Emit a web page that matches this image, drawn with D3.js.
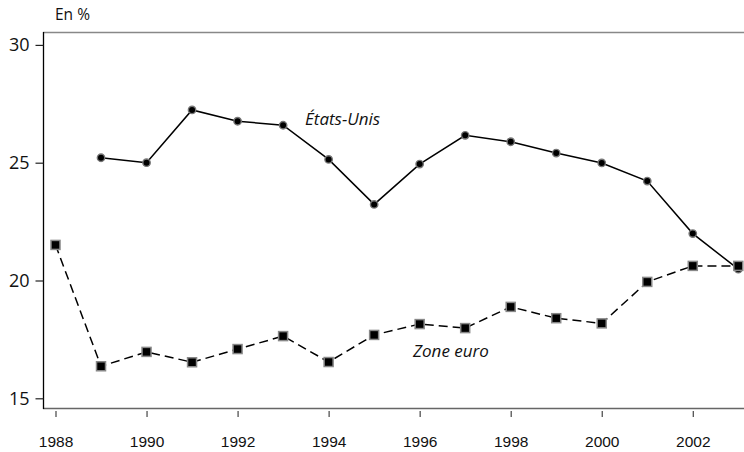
<!DOCTYPE html>
<html>
<head>
<meta charset="utf-8">
<script src="https://cdn.jsdelivr.net/npm/d3@7"></script>
<style>
  body { margin: 0; background: #fff; }
  svg { display: block; }
</style>
</head>
<body>
<svg id="chart" width="744" height="452"></svg>
<script>

var years = [1988, 1989, 1990, 1991, 1992, 1993, 1994, 1995, 1996, 1997, 1998, 1999, 2000, 2001, 2002, 2003]
// Etats-Unis starts in 1989
var usValues = [null, 25.21, 25.0, 27.24, 26.76, 26.59, 25.14, 23.23, 24.94, 26.16, 25.89, 25.41, 24.99, 24.22, 21.99, 20.48]
var euroValues = [21.51, 16.36, 16.97, 16.53, 17.09, 17.64, 16.54, 17.69, 18.15, 17.98, 18.88, 18.40, 18.18, 19.94, 20.62, 20.62]
var xTicks = [1988, 1990, 1992, 1994, 1996, 1998, 2000, 2002]
var yTicks = [15, 20, 25, 30]

var svg = d3.select("#chart")

var x = d3.scaleLinear().domain([1988, 2003]).range([55.5, 738.3])
var y = d3.scaleLinear().domain([15, 30]).range([398.3, 44.9])

var frameLeft = 43, frameTop = 32, frameBottom = 408

// frame lines
svg.append("line")
	.attr("x1", frameLeft).attr("x2", 744)
	.attr("y1", frameTop + 0.5).attr("y2", frameTop + 0.5)
	.attr("stroke", "#888").attr("stroke-width", 1.3)
svg.append("line")
	.attr("x1", frameLeft).attr("x2", 744)
	.attr("y1", frameBottom + 0.5).attr("y2", frameBottom + 0.5)
	.attr("stroke", "#666").attr("stroke-width", 1.3)
svg.append("line")
	.attr("x1", frameLeft + 0.5).attr("x2", frameLeft + 0.5)
	.attr("y1", frameTop).attr("y2", frameBottom + 1)
	.attr("stroke", "#000").attr("stroke-width", 1.3)

// y axis
var yAxis = svg.append("g")
	.attr("transform", "translate(" + (frameLeft + 0.5) + ",0)")
	.call(d3.axisLeft(y).tickValues(yTicks).tickSize(8).tickSizeOuter(0).tickPadding(6))
yAxis.select(".domain").remove()
yAxis.selectAll("line").attr("stroke", "#222").attr("stroke-width", 1.2)
yAxis.selectAll("text")
	.attr("font-family", "'Open Sans', sans-serif")
	.attr("font-size", 18)
	.attr("fill", "#111")
	.attr("dy", "0.32em")

// x axis (ticks detached below the frame)
var xAxis = svg.append("g")
	.attr("transform", "translate(0,411)")
	.call(d3.axisBottom(x).tickValues(xTicks).tickFormat(d3.format("d")).tickSize(6).tickSizeOuter(0).tickPadding(19))
xAxis.select(".domain").remove()
xAxis.selectAll("line").attr("stroke", "#444").attr("stroke-width", 1.2)
xAxis.selectAll("text")
	.attr("font-family", "'Liberation Sans', Arial, sans-serif")
	.attr("font-size", 15.5)
	.attr("fill", "#111")

// unit label
svg.append("text")
	.attr("x", 55).attr("y", 20)
	.attr("font-family", "'Open Sans', sans-serif")
	.attr("font-size", 15.5)
	.attr("fill", "#111")
	.text("En %")

var usData = years.map(function (d, i) { return { year: d, v: usValues[i] } }).filter(function (d) { return d.v != null })
var euroData = years.map(function (d, i) { return { year: d, v: euroValues[i] } })

var line = d3.line()
	.x(function (d) { return x(d.year) })
	.y(function (d) { return y(d.v) })

// Etats-Unis
svg.append("path")
	.datum(usData)
	.attr("d", line)
	.attr("fill", "none")
	.attr("stroke", "#000")
	.attr("stroke-width", 1.5)

svg.selectAll(".us")
	.data(usData)
	.enter()
	.append("circle")
	.attr("class", "us")
	.attr("cx", function (d) { return x(d.year) })
	.attr("cy", function (d) { return y(d.v) })
	.attr("r", 3.7)
	.attr("fill", "#000")
	.attr("stroke", "#777")
	.attr("stroke-width", 1.4)

// Zone euro
svg.append("path")
	.datum(euroData)
	.attr("d", line)
	.attr("fill", "none")
	.attr("stroke", "#000")
	.attr("stroke-width", 1.5)
	.attr("stroke-dasharray", "9,5")

svg.selectAll(".euro")
	.data(euroData)
	.enter()
	.append("rect")
	.attr("class", "euro")
	.attr("x", function (d) { return x(d.year) - 4.5 })
	.attr("y", function (d) { return y(d.v) - 4.5 })
	.attr("width", 9)
	.attr("height", 9)
	.attr("fill", "#000")
	.attr("stroke", "#888")
	.attr("stroke-width", 1.5)

// series labels
svg.append("text")
	.attr("x", 305).attr("y", 125)
	.attr("font-family", "'Open Sans', sans-serif")
	.attr("font-style", "italic")
	.attr("font-size", 17)
	.attr("fill", "#111")
	.text("États-Unis")

svg.append("text")
	.attr("x", 413).attr("y", 357)
	.attr("font-family", "'Open Sans', sans-serif")
	.attr("font-style", "italic")
	.attr("font-size", 17)
	.attr("fill", "#111")
	.text("Zone euro")

</script>
</body>
</html>
